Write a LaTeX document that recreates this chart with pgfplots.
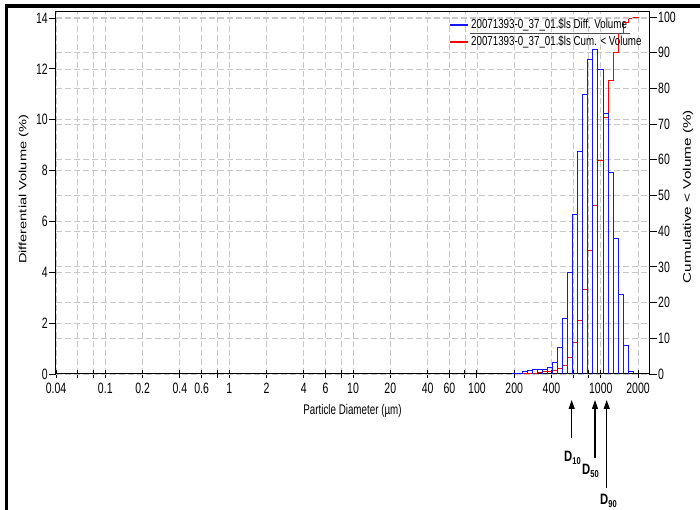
\documentclass[border=0pt]{standalone}
\usepackage{fontspec}
\setmainfont{Liberation Sans}
\newfontfamily\tfont{Liberation Sans}[FakeStretch=0.7]
\newfontfamily\vfont{Liberation Sans}[FakeStretch=1.39]
\newfontfamily\lfont{Liberation Sans}[FakeStretch=0.75]
\usepackage{pgfplots}
\pgfplotsset{compat=1.18}
\usetikzlibrary{arrows.meta}
\definecolor{lsred}{RGB}{255,0,0}
\definecolor{lsblue}{RGB}{20,20,255}
\definecolor{lsgrid}{RGB}{200,200,200}
\begin{document}
\begin{tikzpicture}[x=1pt,y=1pt]
\path[use as bounding box] (0,0) rectangle (700,510);
\fill[black] (4.5,502) rectangle (700,505.5);
\fill[black] (4.5,0) rectangle (8,505.5);
% ---- right axis: cumulative (red) + x axis ----
\begin{axis}[
  at={(56pt,136pt)}, anchor=south west, scale only axis,
  width=593pt, height=362pt,
  xmode=log, xmin=0.04, xmax=2450,
  ymin=0, ymax=101.4,
  axis line style={black, line width=1pt},
  tick align=outside, major tick length=8pt,
  tick style={black, line width=0.9pt},
  x tick style={yshift=3.5pt},
  xtick pos=left, ytick pos=right, yticklabel pos=right,
  xtick={0.04,0.06,0.08,0.1,0.2,0.4,0.6,0.8,1,2,4,6,8,10,20,40,60,80,100,200,400,600,800,1000,2000},
  xticklabels={0.04,,,0.1,0.2,0.4,0.6,,1,2,4,6,,10,20,40,60,,100,200,400,,,1000,2000},
  minor x tick num=0,
  ytick={0,10,...,100},
  xmajorgrids, ymajorgrids,
  major grid style={lsgrid, dash pattern=on 6pt off 3pt, line width=0.8pt},
  /pgf/number format/assume math mode=true,
  xticklabel style={font={\tfont\fontsize{15}{15}\selectfont}, inner sep=1pt},
  yticklabel style={font={\tfont\fontsize{15}{15}\selectfont}, inner sep=1pt},
  xlabel={Particle Diameter (µm)},
  xlabel style={font={\tfont\fontsize{14}{14}\selectfont}, at={(axis description cs:0.5,0)}, anchor=north, inner sep=0pt, yshift=-30pt},
  ylabel={Cumulative < Volume (\%)},
  ylabel style={font={\vfont\fontsize{11}{11}\selectfont}, at={(axis description cs:1.0658,0.49)}, anchor=center, rotate=0},
]
\addplot[lsred, line width=0.9pt, const plot mark left] coordinates {
(194.2,0) (213.2,0.02) (234.0,0.06) (256.9,0.15) (282.0,0.28) (309.6,0.44)
(339.9,0.60) (373.1,0.78) (409.6,1.03) (449.6,1.48) (493.6,2.53) (541.8,4.73)
(594.8,8.71) (653.0,14.98) (716.8,23.74) (786.9,34.74) (863.8,47.13) (948.3,59.91)
(1041.0,71.90) (1142.8,82.14) (1254.5,90.06) (1377.2,95.41) (1511.8,98.53)
(1659.6,99.65) (1821.9,99.74) (2000,100)};
\end{axis}
% ---- left axis: differential (blue) ----
\begin{axis}[
  at={(56pt,136pt)}, anchor=south west, scale only axis,
  width=593pt, height=362pt,
  xmode=log, xmin=0.04, xmax=2450,
  ymin=0, ymax=14.24,
  axis x line=none, axis y line*=left,
  axis line style={black, line width=1pt},
  tick align=outside, major tick length=7pt,
  tick style={black, line width=0.9pt},
  ytick={0,2,...,14},
  ymajorgrids,
  major grid style={lsgrid, dash pattern=on 6pt off 3pt, line width=0.8pt},
  /pgf/number format/assume math mode=true,
  yticklabel style={font={\tfont\fontsize{15}{15}\selectfont}, inner sep=1pt},
  ylabel={Differential Volume (\%)},
  ylabel style={font={\vfont\fontsize{10.5}{10.5}\selectfont}, at={(axis description cs:-0.0545,0.51)}, anchor=center},
]
\addplot[ybar interval, draw=lsblue, fill=none, line width=0.9pt] coordinates {
(194.2,0.02) (213.2,0.04) (234.0,0.09) (256.9,0.13) (282.0,0.16) (309.6,0.16)
(339.9,0.18) (373.1,0.25) (409.6,0.45) (449.6,1.05) (493.6,2.2) (541.8,3.98)
(594.8,6.27) (653.0,8.76) (716.8,11.0) (786.9,12.39) (863.8,12.78) (948.3,11.99)
(1041.0,10.24) (1142.8,7.92) (1254.5,5.35) (1377.2,3.12) (1511.8,1.12)
(1659.6,0.09) (1821.9,0)};
\end{axis}
% ---- legend ----
\draw[draw=lsblue, line width=1.2pt] (450,485) -- (468,485);
\node[anchor=west, inner sep=0pt, font={\lfont\fontsize{13}{13}\selectfont}] at (471,485) {20071393-0\_37\_01.\$ls Diff. Volume};
\draw[draw=lsred, line width=1.2pt] (450,468) -- (468,468);
\node[anchor=west, inner sep=0pt, font={\lfont\fontsize{13}{13}\selectfont}] at (471,468) {20071393-0\_37\_01.\$ls Cum. < Volume};
\draw[black!70, line width=0.8pt] (470,477) -- (630,477);
% ---- D markers ----
\draw[-{Triangle[width=6pt,length=9pt]}, line width=1.2pt] (571.7,72) -- (571.7,110);
\draw[-{Triangle[width=6pt,length=9pt]}, line width=1.2pt] (595,52) -- (595,110);
\draw[-{Triangle[width=6pt,length=9pt]}, line width=1.2pt] (606.7,22) -- (606.7,110);
\node[anchor=base west, inner sep=0pt, font={\lfont\fontsize{15}{15}\selectfont\bfseries}] at (564,48) {D\raisebox{-3pt}{\fontsize{10}{10}\selectfont 10}};
\node[anchor=base west, inner sep=0pt, font={\lfont\fontsize{15}{15}\selectfont\bfseries}] at (582,35) {D\raisebox{-3pt}{\fontsize{10}{10}\selectfont 50}};
\node[anchor=base west, inner sep=0pt, font={\lfont\fontsize{15}{15}\selectfont\bfseries}] at (600,5) {D\raisebox{-3pt}{\fontsize{10}{10}\selectfont 90}};
\end{tikzpicture}
\end{document}
